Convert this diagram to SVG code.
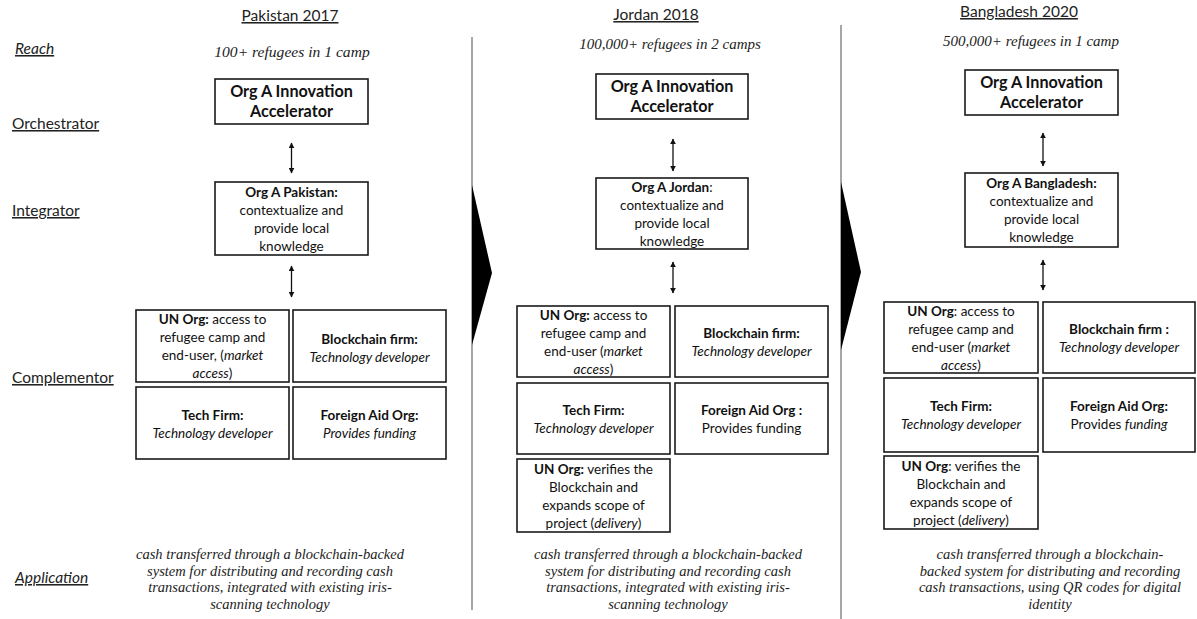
<svg xmlns="http://www.w3.org/2000/svg" width="1197" height="619" viewBox="0 0 1197 619">
<style>
.bg{fill:#fff}
.box{fill:#fff;stroke:#1a1a1a;stroke-width:1.6}
.t{font-family:Lato,"Liberation Sans",sans-serif;font-size:13.5px;fill:#111;text-anchor:middle}
.tb{font-family:Lato,"Liberation Sans",sans-serif;font-size:16.2px;font-weight:bold;fill:#111;text-anchor:middle}
.b{font-weight:bold}
.i{font-style:italic}
.lab{font-family:Lato,"Liberation Sans",sans-serif;font-size:15.5px;fill:#222;text-decoration:underline}
.ttl{font-family:Lato,"Liberation Sans",sans-serif;font-size:15.5px;fill:#222;text-decoration:underline;text-anchor:middle}
.ser{font-family:"Liberation Serif","Times New Roman",serif;font-style:italic;fill:#222;text-anchor:middle}
.reach{font-size:15px}
.reach1{font-size:15.6px}
.app{font-size:14.5px}
.sep{stroke:#888;stroke-width:1.5}
.arr{stroke:#111;stroke-width:1.3;fill:none}
</style>
<defs>
<marker id="ah" viewBox="0 0 10 10" refX="9" refY="5" markerWidth="6" markerHeight="6" markerUnits="userSpaceOnUse" orient="auto-start-reverse">
<path d="M0,0 L10,5 L0,10 z" fill="#111"/>
</marker>
</defs>
<rect class="bg" x="0" y="0" width="1197" height="619"/>

<g id="labels">
<text class="lab i" x="15" y="54">Reach</text>
<text class="lab" x="12" y="129">Orchestrator</text>
<text class="lab" x="12" y="216">Integrator</text>
<text class="lab" x="12" y="383">Complementor</text>
<text class="lab i" x="15" y="583">Application</text>
</g>

<g id="separators">
<line class="sep" x1="472" y1="37" x2="472" y2="610"/>
<line class="sep" x1="841" y1="25" x2="841" y2="619"/>
<polygon points="472,185 492,273 472,345" fill="#000"/>
<polygon points="841,182 861,272 841,350" fill="#000"/>
</g>

<!-- Column 1: Pakistan -->
<g id="col-pakistan">
<text class="ttl" x="290" y="21">Pakistan 2017</text>
<text class="ser reach1" x="292" y="57">100+ refugees in 1 camp</text>
<text class="ser app" x="270" y="559">cash transferred through a blockchain-backed</text>
<text class="ser app" x="270" y="576">system for distributing and recording cash</text>
<text class="ser app" x="270" y="592">transactions, integrated with existing iris-</text>
<text class="ser app" x="270" y="609">scanning technology</text>
</g>
<g id="pk-orch">
<rect class="box" x="215" y="79" width="153" height="45"/>
<text class="tb" x="291.5" y="97">Org A Innovation</text>
<text class="tb" x="291.5" y="117">Accelerator</text>
</g>
<g id="pk-integ">
<rect class="box" x="215" y="182" width="153" height="73"/>
<text class="t" x="291.5" y="196.5"><tspan class="b">Org A Pakistan:</tspan></text>
<text class="t" x="291.5" y="214.5">contextualize and</text>
<text class="t" x="291.5" y="232.5">provide local</text>
<text class="t" x="291.5" y="250.5">knowledge</text>
</g>
<g id="pk-un">
<rect class="box" x="136" y="310" width="153" height="72"/>
<text class="t" x="212.5" y="324"><tspan class="b">UN Org:</tspan> access to</text>
<text class="t" x="212.5" y="342">refugee camp and</text>
<text class="t" x="212.5" y="360">end-user, (<tspan class="i">market</tspan></text>
<text class="t" x="212.5" y="378"><tspan class="i">access</tspan>)</text>
</g>
<g id="pk-block">
<rect class="box" x="293" y="310" width="153" height="72"/>
<text class="t" x="369.5" y="344"><tspan class="b">Blockchain firm:</tspan></text>
<text class="t" x="369.5" y="362"><tspan class="i">Technology developer</tspan></text>
</g>
<g id="pk-tech">
<rect class="box" x="136" y="387" width="153" height="72"/>
<text class="t" x="212.5" y="420"><tspan class="b">Tech Firm:</tspan></text>
<text class="t" x="212.5" y="438"><tspan class="i">Technology developer</tspan></text>
</g>
<g id="pk-aid">
<rect class="box" x="293" y="387" width="153" height="72"/>
<text class="t" x="369.5" y="420"><tspan class="b">Foreign Aid Org:</tspan></text>
<text class="t" x="369.5" y="438"><tspan class="i">Provides funding</tspan></text>
</g>

<!-- Column 2: Jordan -->
<g id="col-jordan">
<text class="ttl" x="656" y="20">Jordan 2018</text>
<text class="ser reach" x="670" y="49">100,000+ refugees in 2 camps</text>
<text class="ser app" x="668" y="559">cash transferred through a blockchain-backed</text>
<text class="ser app" x="668" y="576">system for distributing and recording cash</text>
<text class="ser app" x="668" y="592">transactions, integrated with existing iris-</text>
<text class="ser app" x="668" y="609">scanning technology</text>
</g>
<g id="jo-orch">
<rect class="box" x="596" y="74" width="152" height="45"/>
<text class="tb" x="672" y="92">Org A Innovation</text>
<text class="tb" x="672" y="112">Accelerator</text>
</g>
<g id="jo-integ">
<rect class="box" x="596" y="178" width="152" height="71"/>
<text class="t" x="672" y="192"><tspan class="b">Org A Jordan</tspan>:</text>
<text class="t" x="672" y="210">contextualize and</text>
<text class="t" x="672" y="228">provide local</text>
<text class="t" x="672" y="246">knowledge</text>
</g>
<g id="jo-un">
<rect class="box" x="517" y="306" width="153" height="71"/>
<text class="t" x="593.5" y="319.5"><tspan class="b">UN Org:</tspan> access to</text>
<text class="t" x="593.5" y="337.5">refugee camp and</text>
<text class="t" x="593.5" y="355.5">end-user (<tspan class="i">market</tspan></text>
<text class="t" x="593.5" y="373.5"><tspan class="i">access</tspan>)</text>
</g>
<g id="jo-block">
<rect class="box" x="675" y="306" width="153" height="71"/>
<text class="t" x="751.5" y="337.5"><tspan class="b">Blockchain  firm:</tspan></text>
<text class="t" x="751.5" y="355.5"><tspan class="i">Technology developer</tspan></text>
</g>
<g id="jo-tech">
<rect class="box" x="517" y="383" width="153" height="71"/>
<text class="t" x="593.5" y="414.5"><tspan class="b">Tech Firm:</tspan></text>
<text class="t" x="593.5" y="432.5"><tspan class="i">Technology developer</tspan></text>
</g>
<g id="jo-aid">
<rect class="box" x="675" y="383" width="153" height="71"/>
<text class="t" x="751.5" y="414.5"><tspan class="b">Foreign Aid Org :</tspan></text>
<text class="t" x="751.5" y="432.5">Provides funding</text>
</g>
<g id="jo-un2">
<rect class="box" x="517" y="459" width="153" height="73"/>
<text class="t" x="593.5" y="473.5"><tspan class="b">UN Org:</tspan> verifies the</text>
<text class="t" x="593.5" y="491.5">Blockchain and</text>
<text class="t" x="593.5" y="509.5">expands scope of</text>
<text class="t" x="593.5" y="527.5">project (<tspan class="i">delivery</tspan>)</text>
</g>

<!-- Column 3: Bangladesh -->
<g id="col-bangladesh">
<text class="ttl" x="1019" y="17">Bangladesh 2020</text>
<text class="ser reach" x="1031" y="46">500,000+ refugees in 1 camp</text>
<text class="ser app" x="1050" y="559">cash transferred through a blockchain-</text>
<text class="ser app" x="1050" y="576">backed system for distributing and recording</text>
<text class="ser app" x="1050" y="592">cash transactions, using QR codes for digital</text>
<text class="ser app" x="1050" y="609">identity</text>
</g>
<g id="bd-orch">
<rect class="box" x="965" y="70" width="153" height="45"/>
<text class="tb" x="1041.5" y="88">Org A Innovation</text>
<text class="tb" x="1041.5" y="108">Accelerator</text>
</g>
<g id="bd-integ">
<rect class="box" x="965" y="173" width="153" height="74"/>
<text class="t" x="1041.5" y="188"><tspan class="b">Org A Bangladesh:</tspan></text>
<text class="t" x="1041.5" y="206">contextualize and</text>
<text class="t" x="1041.5" y="224">provide local</text>
<text class="t" x="1041.5" y="242">knowledge</text>
</g>
<g id="bd-un">
<rect class="box" x="884" y="302" width="154" height="71"/>
<text class="t" x="961" y="315.5"><tspan class="b">UN Org</tspan>: access to</text>
<text class="t" x="961" y="333.5">refugee camp and</text>
<text class="t" x="961" y="351.5">end-user (<tspan class="i">market</tspan></text>
<text class="t" x="961" y="369.5"><tspan class="i">access</tspan>)</text>
</g>
<g id="bd-block">
<rect class="box" x="1043" y="302" width="152" height="71"/>
<text class="t" x="1119" y="333.5"><tspan class="b">Blockchain  firm :</tspan></text>
<text class="t" x="1119" y="351.5"><tspan class="i">Technology developer</tspan></text>
</g>
<g id="bd-tech">
<rect class="box" x="884" y="378" width="154" height="74"/>
<text class="t" x="961" y="411"><tspan class="b">Tech Firm:</tspan></text>
<text class="t" x="961" y="429"><tspan class="i">Technology developer</tspan></text>
</g>
<g id="bd-aid">
<rect class="box" x="1043" y="378" width="152" height="74"/>
<text class="t" x="1119" y="411"><tspan class="b">Foreign Aid Org:</tspan></text>
<text class="t" x="1119" y="429">Provides <tspan class="i">funding</tspan></text>
</g>
<g id="bd-un2">
<rect class="box" x="884" y="456" width="154" height="73"/>
<text class="t" x="961" y="470.5"><tspan class="b">UN Org</tspan>: verifies the</text>
<text class="t" x="961" y="488.5">Blockchain and</text>
<text class="t" x="961" y="506.5">expands scope of</text>
<text class="t" x="961" y="524.5">project (<tspan class="i">delivery</tspan>)</text>
</g>

<g id="connectors">
<line class="arr" x1="291.5" y1="143" x2="291.5" y2="173" marker-start="url(#ah)" marker-end="url(#ah)"/>
<line class="arr" x1="291.5" y1="266" x2="291.5" y2="297" marker-start="url(#ah)" marker-end="url(#ah)"/>
<line class="arr" x1="673" y1="139" x2="673" y2="171" marker-start="url(#ah)" marker-end="url(#ah)"/>
<line class="arr" x1="673" y1="262" x2="673" y2="293" marker-start="url(#ah)" marker-end="url(#ah)"/>
<line class="arr" x1="1043" y1="133" x2="1043" y2="166" marker-start="url(#ah)" marker-end="url(#ah)"/>
<line class="arr" x1="1043" y1="260" x2="1043" y2="290" marker-start="url(#ah)" marker-end="url(#ah)"/>
</g>
</svg>
